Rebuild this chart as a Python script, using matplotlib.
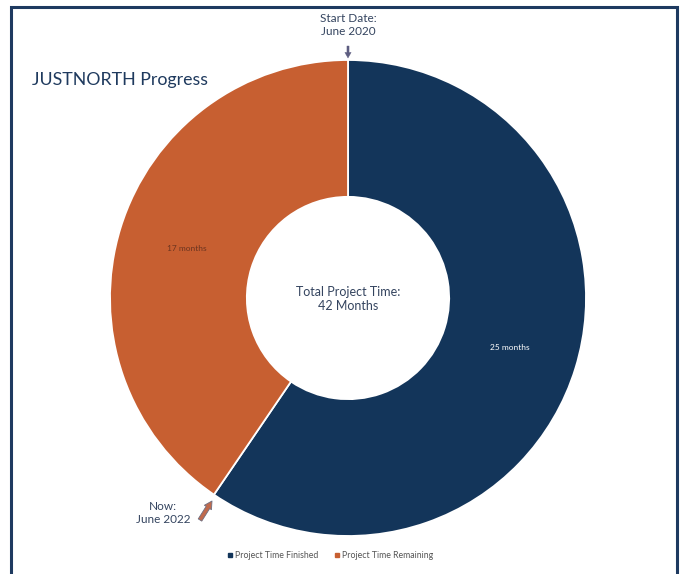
import matplotlib.pyplot as plt
from matplotlib.lines import Line2D
from matplotlib.patches import Rectangle

# data
labels = ["Project Time Finished", "Project Time Remaining"]
months = [25, 17]
colors = ["#13355A", "#C75F31"]
label_colors = ["white", "#6B3420"]
title = "JUSTNORTH Progress"
total_text = "Total Project Time:\n42 Months"
start_text = "Start Date:\nJune 2020"
now_text = "Now:\nJune 2022"

plt.rcParams["font.family"] = ["Lato", "DejaVu Sans"]

W, H = 683, 574
fig = plt.figure(figsize=(W / 100, H / 100), dpi=100)
ax = fig.add_axes([0, 0, 1, 1])

cx, cy, R = 348, 276, 238  # pixel coords, y up

wedges, texts, autotexts = ax.pie(
    months, colors=colors, startangle=90, counterclock=False,
    center=(cx, cy), radius=R,
    wedgeprops=dict(width=R * 0.575, edgecolor="white", linewidth=1.3),
    autopct=lambda p: "%d months" % round(p * sum(months) / 100),
    pctdistance=0.71, textprops=dict(fontsize=6),
)
for t, c in zip(autotexts, label_colors):
    t.set_color(c)

ax.set_xlim(0, W)
ax.set_ylim(0, H)
ax.set_aspect("equal")
ax.axis("off")

# frame
ax.add_patch(Rectangle((11, -20), 666, H - 7 + 20, fill=False,
                       edgecolor="#1E3A60", linewidth=2.2))

txt_col = "#34445F"
ax.text(32, H - 80, title, fontsize=12.8, color="#1F3A5E", va="center", ha="left")
ax.text(cx, cy - 1, total_text, fontsize=9, color=txt_col, ha="center", va="center",
        linespacing=1.15)
ax.text(cx, H - 25, start_text, fontsize=8.5, color=txt_col, ha="center",
        va="center", linespacing=1.15)
ax.text(163, H - 513, now_text, fontsize=8.5, color=txt_col, ha="center",
        va="center", linespacing=1.15)

# arrows
ax.annotate("", xy=(cx, H - 58), xytext=(cx, H - 46),
            arrowprops=dict(arrowstyle="simple,head_width=0.45,head_length=0.4,tail_width=0.15",
                            fc="#5C5C80", ec="#5C5C80", lw=0.3,
                            shrinkA=0, shrinkB=0))
ax.annotate("", xy=(212, H - 501), xytext=(200, H - 520),
            arrowprops=dict(arrowstyle="simple,head_width=0.6,head_length=0.55,tail_width=0.3",
                            fc="#C06A4C", ec="#6E6E80", lw=0.6,
                            shrinkA=0, shrinkB=0))

handles = [Line2D([], [], marker="s", linestyle="", markersize=2.5,
                  color=c) for c in colors]
ax.legend(handles, labels, loc="center", bbox_to_anchor=(330 / W, 18 / H),
          ncol=2, frameon=False, fontsize=6.3, handlelength=0.6,
          handletextpad=0.3, columnspacing=1.8, labelcolor="#555555")

fig.savefig("out.png", dpi=100)
